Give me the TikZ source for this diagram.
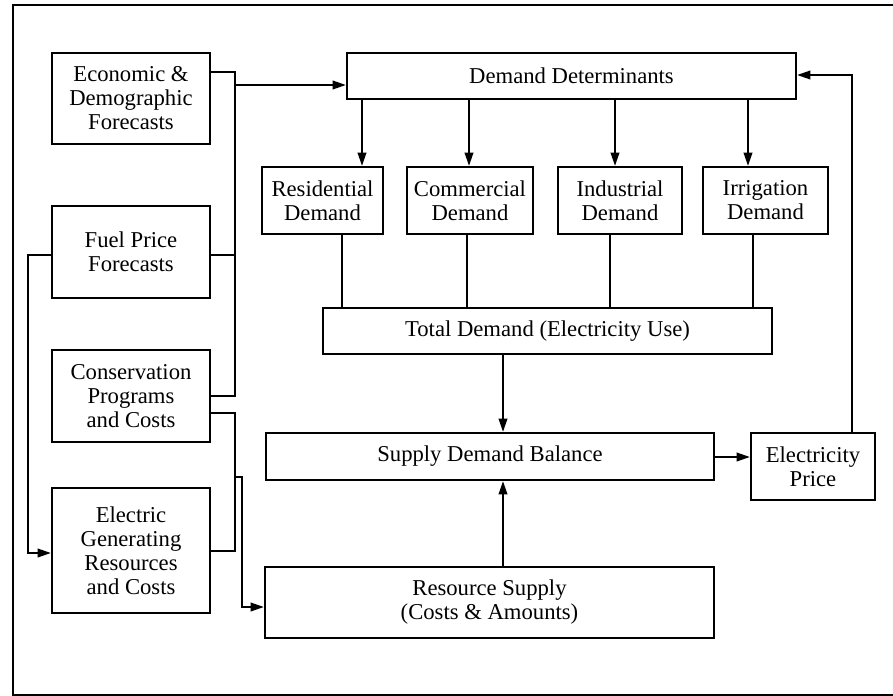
\documentclass[tikz,border=0pt]{standalone}
\usepackage{fontspec}
\setmainfont{Liberation Serif}
\usetikzlibrary{arrows.meta}
\begin{document}
\begin{tikzpicture}[x=0.75pt,y=-0.75pt,
  box/.style={draw, line width=1.7pt, inner sep=0pt, align=center,
    font=\fontsize{17}{18}\selectfont},
  conn/.style={line width=1.4pt},
  arr/.style={conn, -{Triangle[length=10pt,width=6.5pt]}}]
\useasboundingbox (0,0) rectangle (893,696);
\draw[line width=1.6pt] (898,5) -- (13,5) -- (13,695) -- (898,695);

\node[box, minimum width=118.5pt, minimum height=68.25pt] (econ) at (131,98.5) {Economic \&\\Demographic\\Forecasts};
\node[box, minimum width=118.5pt, minimum height=69pt] (fuel) at (131,252) {Fuel Price\\Forecasts};
\node[box, minimum width=118.5pt, minimum height=69pt] (cons) at (131,396) {Conservation\\Programs\\and Costs};
\node[box, minimum width=118.5pt, minimum height=93.75pt] (elec) at (131,550.5) {Electric\\Generating\\Resources\\and Costs};

\node[box, minimum width=336.75pt, minimum height=34.5pt] (dd) at (571.5,76) {Demand Determinants};
\node[box, minimum width=90.75pt, minimum height=50.25pt] (res) at (322.5,200.5) {Residential\\Demand};
\node[box, minimum width=94.5pt, minimum height=50.25pt] (com) at (470,200.5) {Commercial\\Demand};
\node[box, minimum width=93pt, minimum height=50.25pt] (ind) at (620,200.5) {Industrial\\Demand};
\node[box, minimum width=93.75pt, minimum height=50.25pt] (irr) at (765.5,200.5) {Irrigation\\Demand};
\node[box, minimum width=336.75pt, minimum height=34.5pt] (tot) at (547.5,331) {Total Demand (Electricity Use)};
\node[box, minimum width=336pt, minimum height=35.25pt] (sdb) at (490,456.5) {Supply Demand Balance};
\node[box, minimum width=93pt, minimum height=50.25pt] (ep) at (813,466.5) {Electricity\\Price};
\node[box, minimum width=336.75pt, minimum height=53.25pt] (rs) at (489.5,602.5) {Resource Supply\\(Costs \& Amounts)};

% left bus
\draw[conn] (econ.east |- 0,72) -| (235,396) -- (cons.east |- 0,396);
\draw[conn] (fuel.east |- 0,255) -- (235,255);
\draw[arr] (235,85) -- (dd.west |- 0,85);
\draw[arr] (fuel.west |- 0,255) -| (28,553) -- (elec.west |- 0,553);
\draw[conn] (cons.east |- 0,413) -| (235,551) -- (elec.east |- 0,551);
\draw[arr] (235,477) -| (242,607) -- (rs.west |- 0,607);

% demand determinants to sectors
\draw[arr] (dd.south -| 362,0) -- (res.north -| 362,0);
\draw[arr] (dd.south -| 469,0) -- (com.north -| 469,0);
\draw[arr] (dd.south -| 615,0) -- (ind.north -| 615,0);
\draw[arr] (dd.south -| 748,0) -- (irr.north -| 748,0);

% sectors to total
\draw[conn] (res.south -| 342,0) -- (tot.north -| 342,0);
\draw[conn] (com.south -| 467,0) -- (tot.north -| 467,0);
\draw[conn] (ind.south -| 610,0) -- (tot.north -| 610,0);
\draw[conn] (irr.south -| 753,0) -- (tot.north -| 753,0);

\draw[arr] (tot.south -| 503,0) -- (sdb.north -| 503,0);
\draw[arr] (rs.north -| 503,0) -- (sdb.south -| 503,0);
\draw[arr] (sdb.east |- 0,457) -- (ep.west |- 0,457);
\draw[arr] (ep.north -| 852,0) |- (dd.east |- 0,75);
\end{tikzpicture}
\end{document}
